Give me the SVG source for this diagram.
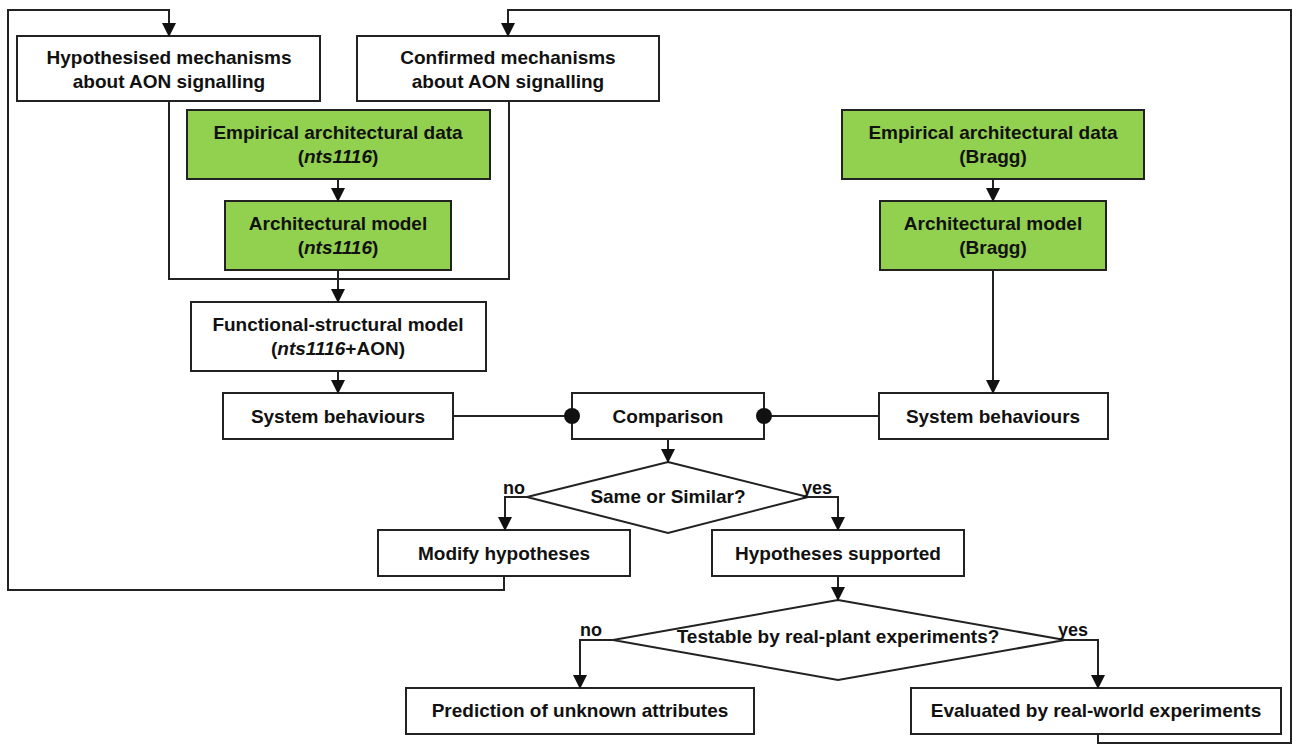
<svg xmlns="http://www.w3.org/2000/svg" width="1293" height="745" viewBox="0 0 1293 745">
  <style>
    .box { fill: #ffffff; stroke: #222222; stroke-width: 2; }
    .green { fill: #92D050; stroke: #222222; stroke-width: 2; }
    .dia { fill: #ffffff; stroke: #222222; stroke-width: 2; }
    .t { font-family: "Liberation Sans", Arial, sans-serif; font-weight: bold; font-size: 19px; fill: #111111; text-anchor: middle; }
    .lbl { font-family: "Liberation Sans", Arial, sans-serif; font-weight: bold; font-size: 18px; fill: #111111; }
    .ln { fill: none; stroke: #222222; stroke-width: 2; }
    .arr { fill: none; stroke: #222222; stroke-width: 2; marker-end: url(#ah); }
  </style>
  <defs>
    <marker id="ah" markerWidth="14" markerHeight="14" refX="13" refY="7" orient="auto" markerUnits="userSpaceOnUse">
      <path d="M0,0 L14,7 L0,14 Z" fill="#111111"/>
    </marker>
  </defs>
  <rect width="1293" height="745" fill="#ffffff"/>

  <g id="hypothesised">
    <rect class="box" x="17" y="36" width="303" height="65"/>
    <text class="t" x="169" y="64">Hypothesised mechanisms</text>
    <text class="t" x="169" y="88">about AON signalling</text>
  </g>
  <g id="confirmed">
    <rect class="box" x="357" y="36" width="302" height="65"/>
    <text class="t" x="508" y="64">Confirmed mechanisms</text>
    <text class="t" x="508" y="88">about AON signalling</text>
  </g>
  <g id="empirical-nts">
    <rect class="green" x="187" y="110" width="303" height="69"/>
    <text class="t" x="338" y="139">Empirical architectural data</text>
    <text class="t" x="338" y="163">(<tspan font-style="italic">nts1116</tspan>)</text>
  </g>
  <g id="model-nts">
    <rect class="green" x="225" y="201" width="226" height="69"/>
    <text class="t" x="338" y="230">Architectural model</text>
    <text class="t" x="338" y="254">(<tspan font-style="italic">nts1116</tspan>)</text>
  </g>
  <g id="functional-structural">
    <rect class="box" x="191" y="302" width="295" height="69"/>
    <text class="t" x="338" y="331">Functional-structural model</text>
    <text class="t" x="338" y="355">(<tspan font-style="italic">nts1116</tspan>+AON)</text>
  </g>
  <g id="behaviours-left">
    <rect class="box" x="223" y="393" width="230" height="46"/>
    <text class="t" x="338" y="423">System behaviours</text>
  </g>
  <g id="comparison">
    <rect class="box" x="572" y="393" width="192" height="46"/>
    <text class="t" x="668" y="423">Comparison</text>
  </g>
  <g id="behaviours-right">
    <rect class="box" x="879" y="393" width="229" height="46"/>
    <text class="t" x="993" y="423">System behaviours</text>
  </g>
  <g id="empirical-bragg">
    <rect class="green" x="842" y="110" width="302" height="69"/>
    <text class="t" x="993" y="139">Empirical architectural data</text>
    <text class="t" x="993" y="163">(Bragg)</text>
  </g>
  <g id="model-bragg">
    <rect class="green" x="880" y="201" width="226" height="69"/>
    <text class="t" x="993" y="230">Architectural model</text>
    <text class="t" x="993" y="254">(Bragg)</text>
  </g>
  <g id="same-or-similar">
    <polygon class="dia" points="668,462 808,497 668,533 527,497"/>
    <text class="t" x="668" y="503">Same or Similar?</text>
    <text class="lbl" x="503" y="494">no</text>
    <text class="lbl" x="802" y="494">yes</text>
  </g>
  <g id="modify">
    <rect class="box" x="378" y="530" width="252" height="46"/>
    <text class="t" x="504" y="560">Modify hypotheses</text>
  </g>
  <g id="supported">
    <rect class="box" x="712" y="530" width="252" height="46"/>
    <text class="t" x="838" y="560">Hypotheses supported</text>
  </g>
  <g id="testable">
    <polygon class="dia" points="838,600 1065,640 838,680 613,640"/>
    <text class="t" x="838" y="643">Testable by real-plant experiments?</text>
    <text class="lbl" x="580" y="636">no</text>
    <text class="lbl" x="1058" y="636">yes</text>
  </g>
  <g id="prediction">
    <rect class="box" x="406" y="688" width="348" height="46"/>
    <text class="t" x="580" y="717">Prediction of unknown attributes</text>
  </g>
  <g id="evaluated">
    <rect class="box" x="911" y="688" width="370" height="46"/>
    <text class="t" x="1096" y="717">Evaluated by real-world experiments</text>
  </g>

  <g id="connectors">
    <!-- feedback loop from "Modify hypotheses" back to hypothesised mechanisms -->
    <path class="arr" d="M504,576 V590 H8 V10 H169 V36"/>
    <!-- feedback loop from real-world evaluation back to confirmed mechanisms -->
    <path class="arr" d="M1098,734 V743 H1291 V10 H508 V36"/>
    <!-- bracket joining both mechanism boxes with the architectural model -->
    <path class="ln" d="M169,101 V279 H509 V101"/>
    <path class="arr" d="M338,179 V201"/>
    <path class="arr" d="M338,270 V302"/>
    <path class="arr" d="M338,371 V393"/>
    <!-- Bragg branch -->
    <path class="arr" d="M993,179 V201"/>
    <path class="arr" d="M993,270 V393"/>
    <!-- behaviours into comparison -->
    <path class="ln" d="M453,416 H572"/>
    <path class="ln" d="M764,416 H879"/>
    <circle cx="572" cy="416" r="8" fill="#111111"/>
    <circle cx="764" cy="416" r="8" fill="#111111"/>
    <path class="arr" d="M668,439 V462"/>
    <!-- first decision -->
    <path class="arr" d="M527,497 H505 V530"/>
    <path class="arr" d="M808,497 H838 V530"/>
    <path class="arr" d="M838,576 V600"/>
    <!-- second decision -->
    <path class="arr" d="M613,640 H580 V688"/>
    <path class="arr" d="M1065,640 H1098 V688"/>
  </g>
</svg>
